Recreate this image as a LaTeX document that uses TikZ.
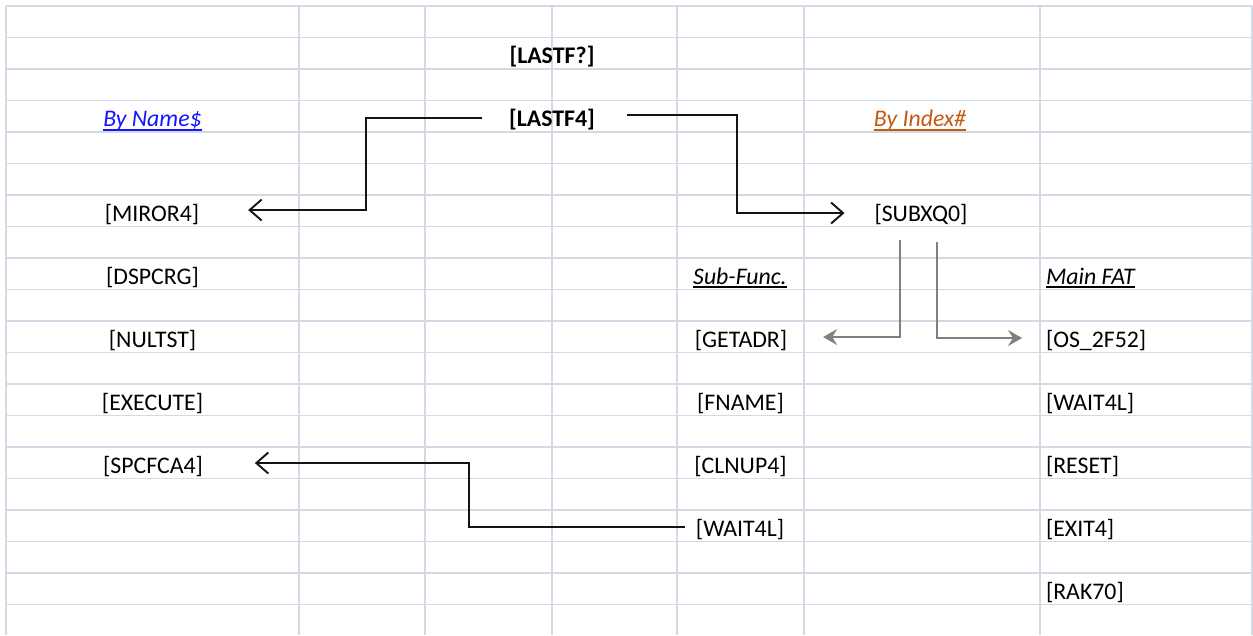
\documentclass[tikz,border=0pt]{standalone}
\usepackage{fontspec}
\setmainfont{Carlito}
\usetikzlibrary{arrows.meta}

\definecolor{gridc}{RGB}{212,217,230}
\definecolor{linkblue}{RGB}{20,20,255}
\definecolor{linkorange}{RGB}{197,90,17}
\definecolor{arrgray}{RGB}{128,128,128}
\definecolor{inkc}{RGB}{20,20,20}

% underline at a fixed depth below the baseline, as a sheet cell draws it
\newcommand\cellul[1]{\setbox0\hbox{#1}\rlap{\rule[-4pt]{\wd0}{1.8pt}}\box0}

\tikzset{
  gridline/.style={draw=gridc, line width=1.8pt},
  cell/.style={inner sep=0pt, outer sep=0pt, text=black,
               font=\fontsize{23.8}{28}\selectfont},
  cellc/.style={cell, anchor=base},
  celll/.style={cell, anchor=base west},
  boldcell/.style={cellc, font=\fontsize{23.8}{28}\selectfont\bfseries},
  headcell/.style={font=\fontsize{23.8}{28}\selectfont\itshape},
  blkarrow/.style={draw=inkc, line width=1.9pt,
                   -{Straight Barb[length=12pt,width=21pt,line width=1.9pt]}},
  gryarrow/.style={draw=arrgray, line width=1.6pt,
                   -{Stealth[length=14pt,width=16pt,inset=5pt]}}
}

\begin{document}
\begin{tikzpicture}[x=1pt,y=-1pt]
\useasboundingbox (0,0) rectangle (1253,635);
\fill[white] (0,0) rectangle (1253,635);

% sheet grid
\foreach \k in {0,...,19}
  \draw[gridline] (6,6+31.5*\k) -- (1252,6+31.5*\k);
\foreach \x in {6,299,425,552,677,804,1040,1252}
  \draw[gridline] (\x,6) -- (\x,635);

% centre column
\node[boldcell] (lastfq) at (552,63.5) {[LASTF?]};
\node[boldcell] (lastf4) at (552,126.5) {[LASTF4]};

% headings
\node[cellc, headcell, text=linkblue]   (byname)  at (152.5,126.5) {\cellul{By Name\$}};
\node[cellc, headcell, text=linkorange] (byindex) at (920,126.5)  {\cellul{By Index\#}};
\node[cellc, headcell] (subfunc) at (740,284) {\cellul{Sub-Func.}};
\node[celll, headcell] (mainfat) at (1046,284) {\cellul{Main FAT}};

% by name column
\node[cellc] (miror4)  at (152,221) {[MIROR4]};
\node[cellc] (dspcrg)  at (152.5,284) {[DSPCRG]};
\node[cellc] (nultst)  at (152.5,347) {[NULTST]};
\node[cellc] (execute) at (152.5,410) {[EXECUTE]};
\node[cellc] (spcfca4) at (153,473) {[SPCFCA4]};

% by index
\node[cellc] (subxq0) at (921,221) {[SUBXQ0]};

% sub-functions
\node[cellc] (getadr)  at (741,347) {[GETADR]};
\node[cellc] (fname)   at (740.5,410) {[FNAME]};
\node[cellc] (clnup4)  at (740.5,473) {[CLNUP4]};
\node[cellc] (wait4ls) at (740,536) {[WAIT4L]};

% main FAT
\node[celll] (os2f52)  at (1046,347) {[OS\_2F52]};
\node[celll] (wait4lm) at (1046,410) {[WAIT4L]};
\node[celll] (reset)   at (1046,473) {[RESET]};
\node[celll] (exit4)   at (1046,536) {[EXIT4]};
\node[celll] (rak70)   at (1046,599) {[RAK70]};

% elbow points of the connectors
\coordinate (j1) at (366,160);
\coordinate (j2) at (737,160);
\coordinate (j5) at (469,495);

% connectors
\draw[blkarrow] ([xshift=-27pt,yshift=2pt]lastf4.west) -| (j1)
                |- ([xshift=49pt,yshift=4pt]miror4.east);
\draw[blkarrow] ([xshift=32pt,yshift=5pt]lastf4.east) -| (j2)
                |- ([xshift=-30pt,yshift=1pt]subxq0.west);
\draw[gryarrow] ([xshift=-21pt,yshift=-16pt]subxq0.south)
                |- ([xshift=36pt,yshift=3pt]getadr.east);
\draw[gryarrow] ([xshift=16pt,yshift=-18pt]subxq0.south)
                |- ([xshift=-24pt,yshift=2pt]os2f52.west);
\draw[blkarrow] ([xshift=-11pt,yshift=2pt]wait4ls.west) -| (j5)
                |- ([xshift=52pt,yshift=3pt]spcfca4.east);
\end{tikzpicture}
\end{document}
